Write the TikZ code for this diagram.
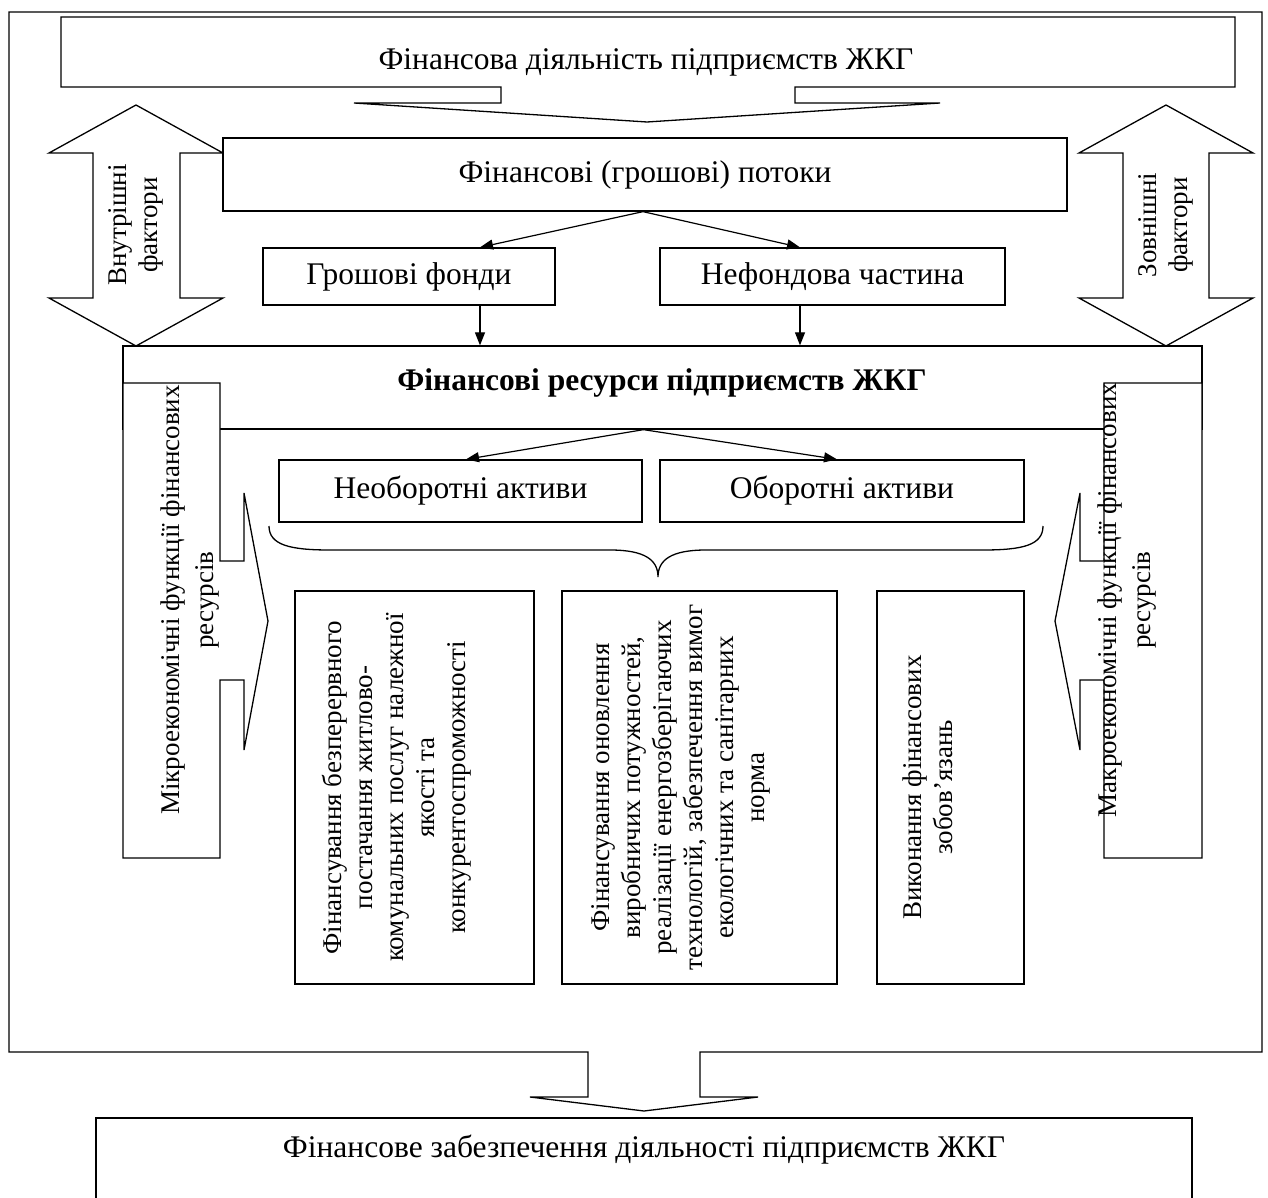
\documentclass[tikz,border=0pt]{standalone}
\usepackage{fontspec}
\setmainfont{Liberation Serif}
\usetikzlibrary{arrows.meta}
\begin{document}
\begin{tikzpicture}[x=1pt,y=-1pt,
  line width=1.3pt, line join=miter,
  shp/.style={draw, fill=white},
  lbl/.style={font=\fontsize{27}{31}\selectfont, align=center, inner sep=0pt},
  big/.style={font=\fontsize{31.5}{36}\selectfont, align=center, inner sep=0pt},
  box/.style={draw, fill=white, font=\fontsize{31.5}{36}\selectfont, align=center, inner sep=0pt},
  conn/.style={-{Triangle[length=13pt,width=10pt]}, line width=1.2pt},
]
\useasboundingbox (0,0) rectangle (1268,1198);
% outer frame with bottom arrow
\draw (9,12) -- (1262,12) -- (1262,1052) -- (700,1052) -- (700,1097) -- (758,1097) -- (644,1111) -- (530,1097) -- (588,1097) -- (588,1052) -- (9,1052) -- cycle;
% top callout
\draw[shp] (61,17) -- (1235,17) -- (1235,87) -- (795,87) -- (795,103) -- (940,103) -- (647,122) -- (354,103) -- (501,103) -- (501,87) -- (61,87) -- cycle;
\node[big] (title) at (646,62) {Фінансова діяльність підприємств ЖКГ};
% double arrows
\draw[shp] (136,105) -- (223,153) -- (180,153) -- (180,298) -- (223,298) -- (136,346) -- (49,298) -- (93,298) -- (93,153) -- (49,153) -- cycle;
\node[lbl, rotate=90] (inner) at (136,225) {Внутрішні\\фактори};
\draw[shp] (1166,105) -- (1253,153) -- (1209,153) -- (1209,298) -- (1253,298) -- (1166,346) -- (1079,298) -- (1123,298) -- (1123,153) -- (1079,153) -- cycle;
\node[lbl, rotate=90] (outer) at (1166,225) {Зовнішні\\фактори};
% flows
\node[box, minimum width=844pt, minimum height=73pt] (flows) at (645,174.5) {Фінансові (грошові) потоки};
\node[box, minimum width=292pt, minimum height=57pt] (funds) at (409,276.5) {Грошові фонди};
\node[box, minimum width=345pt, minimum height=57pt] (nonfund) at (832.5,276.5) {Нефондова частина};
\draw[conn] ([xshift=-2pt]flows.south) -- ([xshift=71pt]funds.north);
\draw[conn] ([xshift=-2pt]flows.south) -- ([xshift=-32.5pt]nonfund.north);
% resources
\node[box, minimum width=1079pt, minimum height=83pt] (res) at (662.5,387.5) {};
\node[big, font=\fontsize{31.5}{36}\selectfont\bfseries] (restext) at (662,383) {Фінансові ресурси підприємств ЖКГ};
\draw[conn] ([xshift=71pt]funds.south) -- ([xshift=71pt]funds.south |- res.north);
\draw[conn] ([xshift=-32.5pt]nonfund.south) -- ([xshift=-32.5pt]nonfund.south |- res.north);
% micro callout
\draw[shp] (123,383) -- (220,383) -- (220,561) -- (244,561) -- (244,493) -- (268,621) -- (244,750) -- (244,680) -- (220,680) -- (220,858) -- (123,858) -- cycle;
\node[lbl, rotate=90, font=\fontsize{27}{34}\selectfont] (micro) at (190,600) {Мікроекономічні функції фінансових\\ресурсів};
% macro callout
\draw[shp] (1202,383) -- (1104,383) -- (1104,561) -- (1080,561) -- (1080,493) -- (1055,621) -- (1080,750) -- (1080,680) -- (1104,680) -- (1104,858) -- (1202,858) -- cycle;
\node[lbl, rotate=90, font=\fontsize{27}{34}\selectfont] (macro) at (1127,600) {Макроекономічні функції фінансових\\ресурсів};
% assets
\node[box, minimum width=363pt, minimum height=62pt] (noncur) at (460.5,491) {Необоротні активи};
\node[box, minimum width=364pt, minimum height=62pt] (cur) at (842,491) {Оборотні активи};
\draw[conn] ([xshift=-19pt]res.south) -- ([xshift=5.5pt]noncur.north);
\draw[conn] ([xshift=-19pt]res.south) -- ([xshift=-5pt]cur.north);
% brace
\draw (269,526) .. controls (269,545) and (290,550) .. (330,550) -- (610,550) .. controls (645,550) and (658,560) .. (658,577)
      .. controls (658,560) and (671,550) .. (706,550) -- (983,550) .. controls (1023,550) and (1043,545) .. (1043,526);
% function boxes
\node[box, minimum width=239pt, minimum height=393pt] (f1) at (414.5,787.5) {};
\node[lbl, rotate=90] (f1t) at (397,787.5) {Фінансування безперервного\\постачання житлово-\\комунальних послуг належної\\якості та\\конкурентоспроможності};
\node[box, minimum width=275pt, minimum height=393pt] (f2) at (699.5,787.5) {};
\node[lbl, rotate=90] (f2t) at (681,787.5) {Фінансування оновлення\\виробничих потужностей,\\реалізації енергозберігаючих\\технологій, забезпечення вимог\\екологічних та санітарних\\норма};
\node[box, minimum width=147pt, minimum height=393pt] (f3) at (950.5,787.5) {};
\node[lbl, rotate=90] (f3t) at (928,787.5) {Виконання фінансових\\зобов’язань};
% bottom box
\draw (96,1210) -- (96,1118) -- (1192,1118) -- (1192,1210);
\node[big] (final) at (644,1150) {Фінансове забезпечення діяльності підприємств ЖКГ};
\end{tikzpicture}
\end{document}
